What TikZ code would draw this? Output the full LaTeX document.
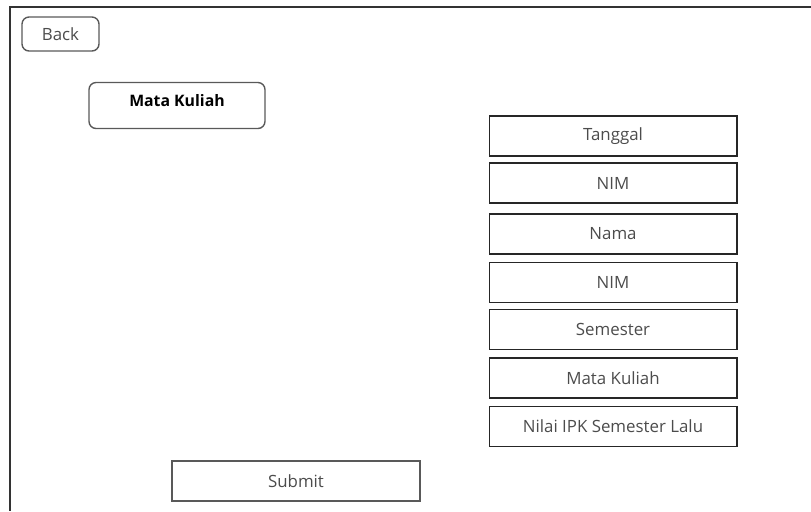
\documentclass[tikz,border=0pt]{standalone}
\usepackage{fontspec}
\setmainfont{Open Sans}
\usetikzlibrary{positioning}

\tikzset{
	field/.style={draw=black!85,semithick,minimum width=4.96cm,minimum height=0.8cm,inner sep=0pt,text=black!70,font=\fontsize{9.6}{11}\selectfont},
	btn/.style={draw=black!65,thick,rounded corners=4pt,inner sep=0pt,text=black!70,font=\fontsize{9.6}{11}\selectfont},
}

\begin{document}
\begin{tikzpicture}[x=0.02cm,y=-0.02cm]
		\useasboundingbox (0,0) rectangle (811,511);
		% frame of the page
		\draw[black!80,thick] (811,7) -- (10,7) -- (10,511);
		\node[btn,minimum width=1.54cm,minimum height=0.68cm] (back) at (60.5,34) {Back};
		\node[btn,minimum width=3.52cm,minimum height=0.92cm,text depth=0.2cm,text=black,font=\fontsize{9}{11}\selectfont\bfseries] (matkul) at (177,105.5) {Mata Kuliah};
		% input fields
		\foreach \i / \y / \t in {1/136/Tanggal,2/183/NIM,3/234/Nama,4/282.5/NIM,5/329.5/Semester,6/378/Mata Kuliah,7/426.5/Nilai IPK Semester Lalu} { \node[field] (f\i) at (613,\y) {\t};}
		\node[field,draw=black!65,thick] (submit) at (296,481) {Submit};
	\end{tikzpicture}
\end{document}
